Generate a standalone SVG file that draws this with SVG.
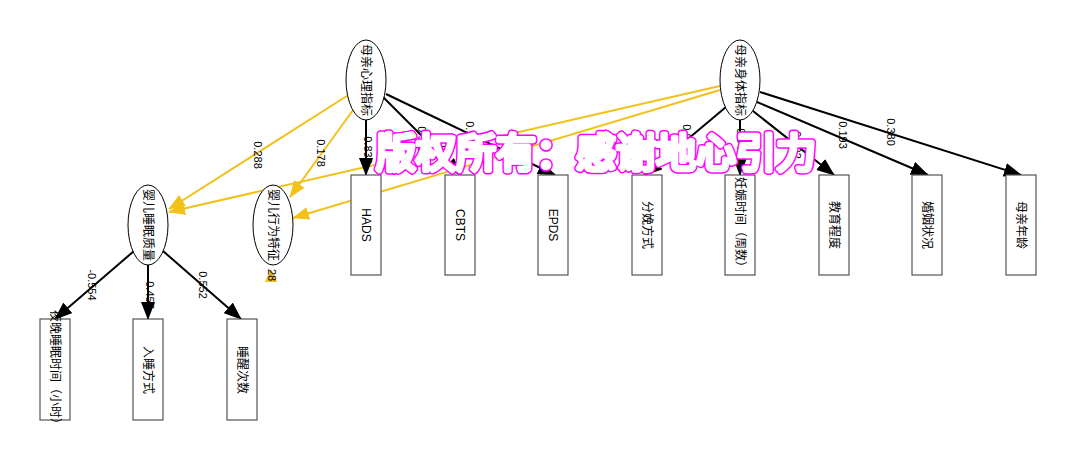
<svg xmlns="http://www.w3.org/2000/svg" width="1077" height="470" viewBox="0 0 1077 470">
<style>
.n ellipse{fill:#fff;stroke:#000;stroke-width:1}
.n rect{fill:#fff;stroke:#555;stroke-width:1.2}
.t{font-family:"Liberation Sans","Noto Sans CJK SC",sans-serif;font-size:12px;fill:#000}
.l{font-family:"Liberation Sans","Noto Sans CJK SC",sans-serif;font-size:11px;fill:#000}
.k{stroke:#000;stroke-width:2;fill:none}
.y{stroke:#f2c11a;stroke-width:2;fill:none}
.wm{font-family:"Noto Sans CJK SC",sans-serif;font-size:40px;font-weight:400;stroke-linejoin:round;stroke-linecap:round}
.wm1{fill:#ff00ff;stroke:#ff00ff;stroke-width:7.5}
.wm2{fill:#fff;stroke:#fff;stroke-width:4.5}
</style>
<defs>
<marker id="ak" markerUnits="userSpaceOnUse" markerWidth="18" markerHeight="14" refX="17" refY="7" orient="auto"><path d="M0,0 L18,7 L0,14 Z" fill="#000"/></marker>
<marker id="ay" markerUnits="userSpaceOnUse" markerWidth="17" markerHeight="13" refX="16" refY="6.5" orient="auto"><path d="M0,0 L17,6.5 L0,13 Z" fill="#f2c11a"/></marker>
</defs>
<rect width="1077" height="470" fill="#fff"/>
<g id="edges">
<line class="y" x1="350" y1="94" x2="169" y2="209" marker-end="url(#ay)"/>
<line class="y" x1="356" y1="106" x2="290" y2="197" marker-end="url(#ay)"/>
<line class="y" x1="720" y1="86" x2="169" y2="212" marker-end="url(#ay)"/>
<line class="y" x1="720" y1="90" x2="293" y2="218" marker-end="url(#ay)"/>
<line class="k" x1="366" y1="120" x2="366" y2="175" marker-end="url(#ak)"/>
<line class="k" x1="383" y1="97" x2="461" y2="175" marker-end="url(#ak)"/>
<line class="k" x1="386" y1="94" x2="555" y2="175" marker-end="url(#ak)"/>
<line class="k" x1="726" y1="107" x2="645" y2="175" marker-end="url(#ak)"/>
<line class="k" x1="740" y1="120" x2="740" y2="175" marker-end="url(#ak)"/>
<line class="k" x1="753" y1="111" x2="834" y2="175" marker-end="url(#ak)"/>
<line class="k" x1="757" y1="102" x2="928" y2="175" marker-end="url(#ak)"/>
<line class="k" x1="760" y1="92" x2="1021" y2="175" marker-end="url(#ak)"/>
<line class="k" x1="134" y1="251" x2="55" y2="319" marker-end="url(#ak)"/>
<line class="k" x1="148" y1="265" x2="148" y2="319" marker-end="url(#ak)"/>
<line class="k" x1="163" y1="251" x2="241" y2="319" marker-end="url(#ak)"/>
<path d="M265,282 L277,282 L271,269 Z" fill="#f2c11a"/>
<g class="l" text-anchor="middle" dominant-baseline="central">
<text transform="translate(258,155) rotate(90)">0.288</text>
<text transform="translate(321,153) rotate(90)">0.178</text>
<text transform="translate(368,150) rotate(90)">0.833</text>
<text transform="translate(422,140) rotate(90)">0.912</text>
<text transform="translate(443,155) rotate(90)">0.223</text>
<text transform="translate(470,135) rotate(90)">0.952</text>
<text transform="translate(508,155) rotate(90)">0.852</text>
<text transform="translate(687,138) rotate(90)">0.012</text>
<text transform="translate(741,142) rotate(90)">0.945</text>
<text transform="translate(797,145) rotate(90)">0.502</text>
<text transform="translate(843,135) rotate(90)">0.193</text>
<text transform="translate(891,132) rotate(90)">0.380</text>
<text transform="translate(92,285) rotate(90)">-0.554</text>
<text transform="translate(150,295) rotate(90)">0.457</text>
<text transform="translate(203,285) rotate(90)">0.552</text>
<text transform="translate(272,275) rotate(90)">28</text>
</g>
</g>
<g id="n_mxl" class="n"><ellipse cx="366" cy="80" rx="20" ry="40"/><text class="t" transform="translate(366,80) rotate(90)" text-anchor="middle" dominant-baseline="central">母亲心理指标</text></g>
<g id="n_mst" class="n"><ellipse cx="740" cy="80" rx="20" ry="40"/><text class="t" transform="translate(740,80) rotate(90)" text-anchor="middle" dominant-baseline="central">母亲身体指标</text></g>
<g id="n_yesm" class="n"><ellipse cx="148" cy="225" rx="20" ry="40"/><text class="t" transform="translate(148,225) rotate(90)" text-anchor="middle" dominant-baseline="central">婴儿睡眠质量</text></g>
<g id="n_yexw" class="n"><ellipse cx="273" cy="225" rx="20" ry="40"/><text class="t" transform="translate(273,225) rotate(90)" text-anchor="middle" dominant-baseline="central">婴儿行为特征</text></g>
<g id="n_hads" class="n"><rect x="351" y="175" width="30" height="100"/><text class="t" transform="translate(366,225) rotate(90)" text-anchor="middle" dominant-baseline="central">HADS</text></g>
<g id="n_cbts" class="n"><rect x="445" y="175" width="30" height="100"/><text class="t" transform="translate(460,225) rotate(90)" text-anchor="middle" dominant-baseline="central">CBTS</text></g>
<g id="n_epds" class="n"><rect x="538" y="175" width="30" height="100"/><text class="t" transform="translate(553,225) rotate(90)" text-anchor="middle" dominant-baseline="central">EPDS</text></g>
<g id="n_fmfs" class="n"><rect x="632" y="175" width="30" height="100"/><text class="t" transform="translate(647,225) rotate(90)" text-anchor="middle" dominant-baseline="central">分娩方式</text></g>
<g id="n_rssj" class="n"><rect x="725" y="175" width="30" height="100"/><text class="t" transform="translate(740,225) rotate(90)" text-anchor="middle" dominant-baseline="central">妊娠时间（周数）</text></g>
<g id="n_jycd" class="n"><rect x="819" y="175" width="30" height="100"/><text class="t" transform="translate(834,225) rotate(90)" text-anchor="middle" dominant-baseline="central">教育程度</text></g>
<g id="n_hyzk" class="n"><rect x="912" y="175" width="30" height="100"/><text class="t" transform="translate(927,225) rotate(90)" text-anchor="middle" dominant-baseline="central">婚姻状况</text></g>
<g id="n_mqnl" class="n"><rect x="1006" y="175" width="30" height="100"/><text class="t" transform="translate(1021,225) rotate(90)" text-anchor="middle" dominant-baseline="central">母亲年龄</text></g>
<g id="n_ywsm" class="n"><rect x="40" y="319" width="30" height="101"/><text class="t" transform="translate(55,370) rotate(90)" text-anchor="middle" dominant-baseline="central">夜晚睡眠时间（小时）</text></g>
<g id="n_rsfs" class="n"><rect x="133" y="319" width="30" height="101"/><text class="t" transform="translate(148,370) rotate(90)" text-anchor="middle" dominant-baseline="central">入睡方式</text></g>
<g id="n_sxcs" class="n"><rect x="227" y="319" width="30" height="101"/><text class="t" transform="translate(242,370) rotate(90)" text-anchor="middle" dominant-baseline="central">睡醒次数</text></g>
<g id="watermark">
<text class="wm wm1" x="596" y="167" text-anchor="middle">版权所有：感谢地心引力</text>
<text class="wm wm2" x="596" y="167" text-anchor="middle">版权所有：感谢地心引力</text>
</g>
</svg>
